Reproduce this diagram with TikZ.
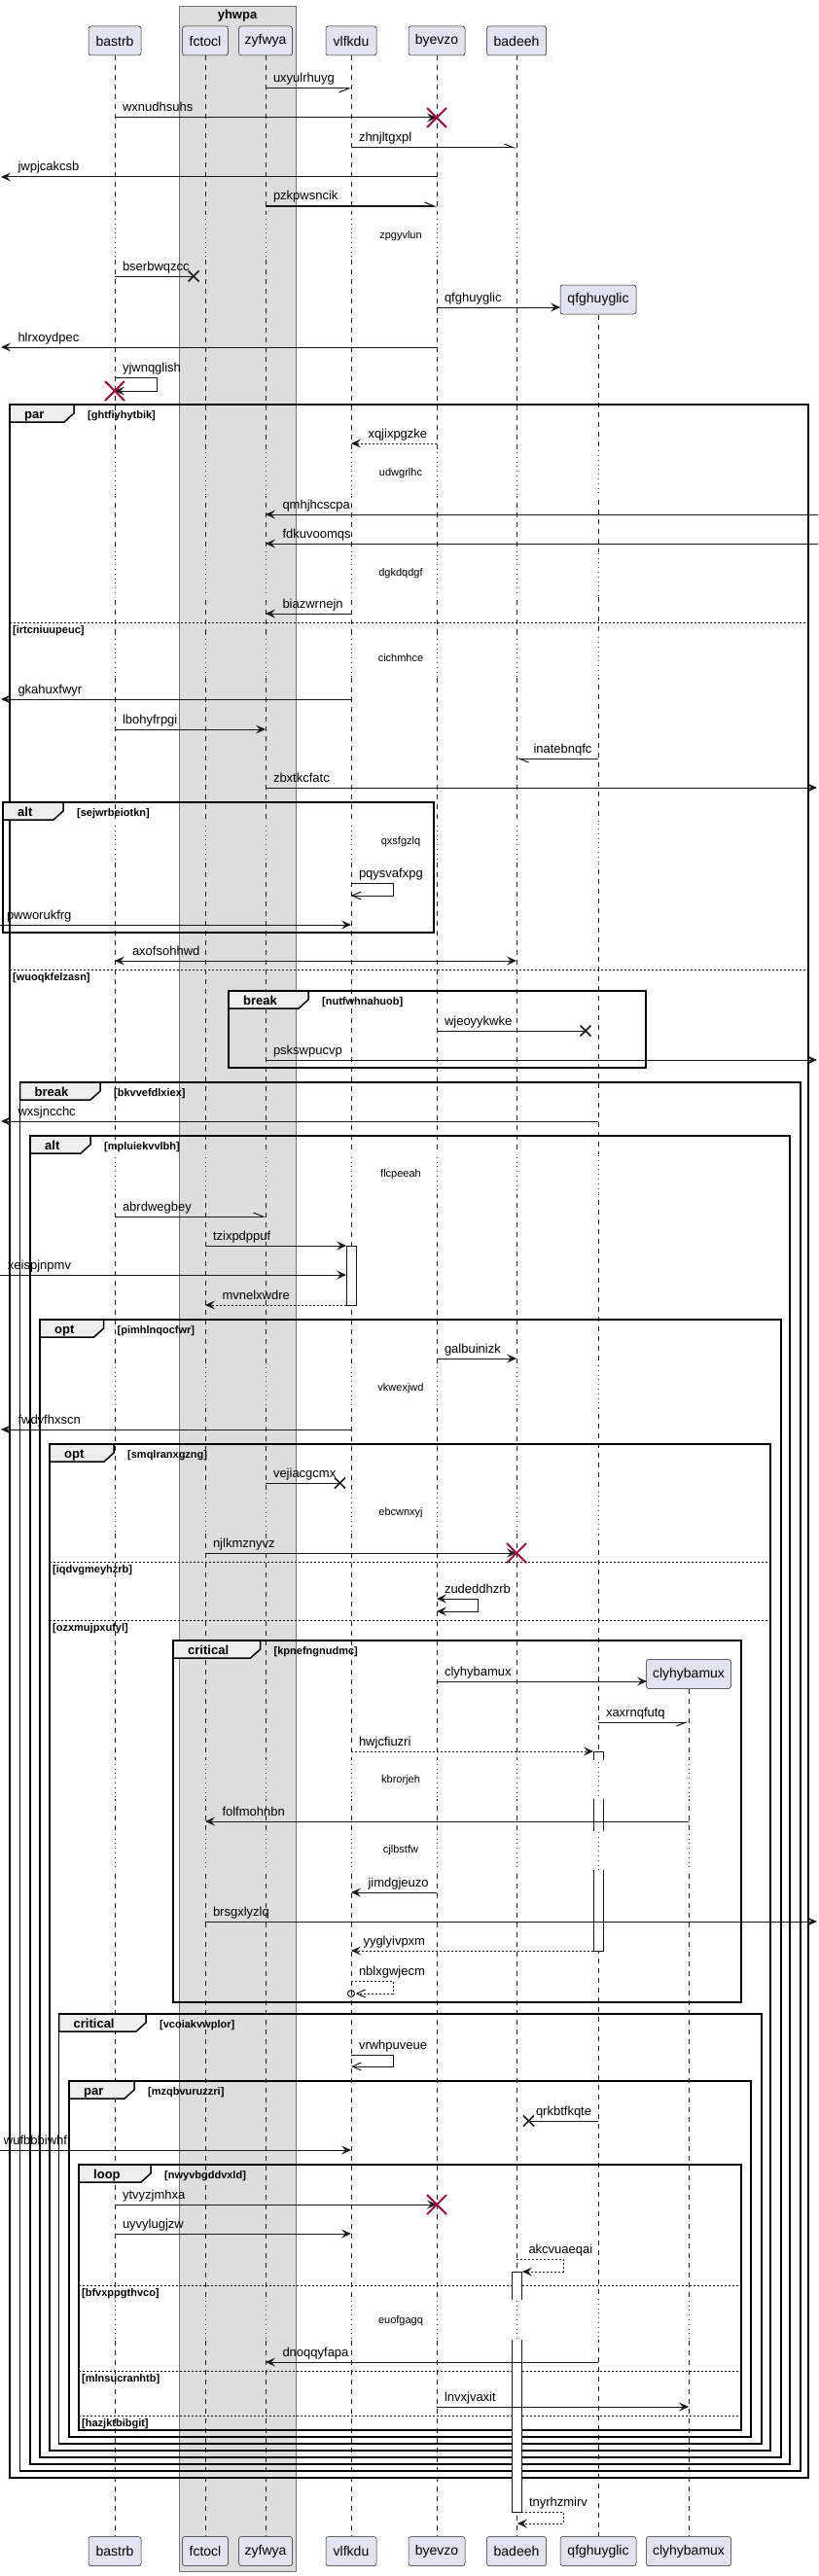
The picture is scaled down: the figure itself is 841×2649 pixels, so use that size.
\documentclass[tikz,border=0pt]{standalone}
\usepackage{fontspec}
\setmainfont{Liberation Sans}
\usetikzlibrary{arrows.meta}

% frame: left, top, right, bottom, tab right, kind, guard, name
\newcommand\grp[8]{%
  \draw[grpframe] (#1,#2) rectangle (#3,#4);
  \filldraw[grptab] (#1,#2) -- (#5,#2) -- (#5,#2+9) -- (#5-10,#2+18) -- (#1,#2+18) -- cycle;
  \node[grpkind] (#8k) at (#1+15,#2+14) {#6};
  \node[grpguard] (#8g) at (#5+14,#2+14) {[#7]};
}
% else line: left, right, y, guard, name
\newcommand\elsebar[5]{%
  \draw[elseline] (#1,#3) -- (#2,#3);
  \node[grpguard] (#5) at (#1+3,#3+11) {[#4]};
}

\begin{document}
\begin{tikzpicture}[x=1pt,y=-1pt,
  lifeline/.style={draw=linecol,line width=0.5pt,dash pattern=on 5pt off 5pt},
  delayline/.style={draw=redx,line width=0.8pt,dash pattern=on 0.8pt off 4pt},
  part/.style={draw=linecol,fill=partfill,line width=0.5pt,rounded corners=2.5pt,
    minimum height=30pt,inner sep=0pt,font=\fontsize{14}{16}\selectfont},
  grpbox/.style={draw=black!55,fill=grpfill,line width=0.5pt},
  grptitle/.style={font=\bfseries\fontsize{13}{15}\selectfont,inner sep=0pt},
  grpframe/.style={draw=black,line width=1.5pt},
  grptab/.style={draw=black,fill=tabfill,line width=1.5pt},
  grpkind/.style={anchor=base west,inner sep=0pt,font=\bfseries\fontsize{13}{15}\selectfont},
  grpguard/.style={anchor=base west,inner sep=0pt,font=\bfseries\fontsize{11}{13}\selectfont},
  elseline/.style={draw=black,line width=0.8pt,dash pattern=on 2pt off 2pt},
  delaytxt/.style={inner sep=0pt,font=\fontsize{11}{13}\selectfont},
  act/.style={draw=linecol,line width=0.5pt},
  line/.style={draw=linecol,line width=1pt},
  sync/.style={line,-{Stealth[length=10pt,width=9pt,inset=4pt]}},
  back/.style={sync,dash pattern=on 2pt off 2pt},
  async/.style={line,-{Straight Barb[length=9pt,width=8pt]}},
  halfl/.style={line,-{Straight Barb[left,length=10pt,width=8pt]}},
  halfr/.style={line,-{Straight Barb[right,length=10pt,width=8pt]}},
  redx/.style={draw=redx,line width=1.8pt},
  lostx/.style={draw=linecol,line width=1.5pt},
  lbl/.style={anchor=base west,inner sep=0pt,yshift=6pt,font=\fontsize{13}{15}\selectfont},
  lr/.style={lbl,pos=0,xshift=7.5pt},
  ll/.style={lbl,pos=1,xshift=17pt}]
  \definecolor{linecol}{HTML}{181818}
  \definecolor{partfill}{HTML}{E2E2F0}
  \definecolor{grpfill}{HTML}{DDDDDD}
  \definecolor{tabfill}{HTML}{EEEEEE}
  \definecolor{redx}{HTML}{A80036}
  \useasboundingbox (0,0) rectangle (841,2649);

  \filldraw[grpbox] (184,6) rectangle (304,2644);
  \node[grptitle] (yhwpa) at (244,16) {yhwpa};

  \begin{scope}
    \clip (0,0) rectangle (841,220) (0,265) rectangle (841,463) (0,510) rectangle (841,568)
      (0,613) rectangle (841,652) (0,697) rectangle (841,845) (0,888) rectangle (841,1187)
      (0,1228) rectangle (841,1405) (0,1448) rectangle (841,1533) (0,1577) rectangle (841,1810)
      (0,1850) rectangle (841,1883) (0,1923) rectangle (841,2365) (0,2406) rectangle (841,2649);
    \foreach \x/\top in {118/57,211/57,273/57,361/57,449/57,531/57,615/324,708/1737}
      \draw[lifeline] (\x,\top) -- (\x,2608);
  \end{scope}
  \begin{scope}
    \clip (0,220) rectangle (841,265) (0,463) rectangle (841,510) (0,568) rectangle (841,613)
      (0,652) rectangle (841,697) (0,845) rectangle (841,888) (0,1187) rectangle (841,1228)
      (0,1405) rectangle (841,1448) (0,1533) rectangle (841,1577) (0,1810) rectangle (841,1850)
      (0,1883) rectangle (841,1923) (0,2365) rectangle (841,2406);
    \foreach \x/\top in {118/57,211/57,273/57,361/57,449/57,531/57,615/324,708/1737}
      \draw[delayline] (\x,\top) -- (\x,2608);
  \end{scope}

  \node[delaytxt] (d1) at (412,243) {zpgyvlun};
  \node[delaytxt] (d2) at (412,487) {udwgrlhc};
  \node[delaytxt] (d3) at (412,590) {dgkdqdgf};
  \node[delaytxt] (d4) at (412,677) {cichmhce};
  \node[delaytxt] (d5) at (412,866) {qxsfgzlq};
  \node[delaytxt] (d6) at (412,1208) {flcpeeah};
  \node[delaytxt] (d7) at (412,1428) {vkwexjwd};
  \node[delaytxt] (d8) at (412,1556) {ebcwnxyj};
  \node[delaytxt] (d9) at (412,1831) {kbrorjeh};
  \node[delaytxt] (d10) at (412,1903) {cjlbstfw};
  \node[delaytxt] (d11) at (412,2387) {euofgagq};

  \node[part,minimum width=54pt] (bastrb) at (118,42) {bastrb};
  \node[part,minimum width=47pt] (fctocl) at (211,42) {fctocl};
  \node[part,minimum width=55pt] (zyfwya) at (273,42) {zyfwya};
  \node[part,minimum width=52pt] (vlfkdu) at (361,42) {vlfkdu};
  \node[part,minimum width=58pt] (byevzo) at (449,42) {byevzo};
  \node[part,minimum width=61pt] (badeeh) at (531,42) {badeeh};
  \node[part,minimum width=78pt] (qfghuyglic) at (615,308) {qfghuyglic};
  \node[part,minimum width=87pt] (clyhybamux) at (708,1721.5) {clyhybamux};
  \node[part,minimum width=54pt] (bastrbB) at (118,2623.5) {bastrb};
  \node[part,minimum width=47pt] (fctoclB) at (211,2623.5) {fctocl};
  \node[part,minimum width=55pt] (zyfwyaB) at (273,2623.5) {zyfwya};
  \node[part,minimum width=52pt] (vlfkduB) at (361,2623.5) {vlfkdu};
  \node[part,minimum width=58pt] (byevzoB) at (449,2623.5) {byevzo};
  \node[part,minimum width=61pt] (badeehB) at (531,2623.5) {badeeh};
  \node[part,minimum width=78pt] (qfghuyglicB) at (615,2623.5) {qfghuyglic};
  \node[part,minimum width=87pt] (clyhybamuxB) at (708,2623.5) {clyhybamux};

  \grp{10}{416}{831}{2548}{76}{par}{ghtfiyhytbik}{g1}
  \elsebar{10}{831}{640}{irtcniuupeuc}{e1}
  \grp{3}{825}{446}{959}{65}{alt}{sejwrbeiotkn}{g2}
  \elsebar{10}{831}{997}{wuoqkfelzasn}{e2}
  \grp{235}{1019}{664}{1098}{317}{break}{nutfwhnahuob}{g3}
  \grp{20.5}{1113}{823}{2541}{103}{break}{bkvvefdlxiex}{g4}
  \grp{31}{1168}{812}{2534}{93}{alt}{mpluiekvvlbh}{g5}
  \grp{41}{1357}{803}{2527}{106.5}{opt}{pimhlnqocfwr}{g6}
  \grp{51}{1485}{792}{2520}{117}{opt}{smqlranxgzng}{g7}
  \elsebar{51}{792}{1606}{iqdvgmeyhzrb}{e3}
  \elsebar{51}{792}{1666}{ozxmujpxufyl}{e4}
  \grp{178}{1687}{762}{2059}{267.5}{critical}{kpnefngnudmc}{g8}
  \grp{60.5}{2071}{783}{2513}{150}{critical}{vcoiakvwplor}{g9}
  \grp{71}{2140}{772}{2506}{138}{par}{mzqbvuruzzri}{g10}
  \grp{81}{2226}{762}{2499}{155}{loop}{nwyvbgddvxld}{g11}
  \elsebar{81}{762}{2350}{bfvxppgthvco}{e5}
  \elsebar{81}{762}{2438}{mlnsucranhtb}{e6}
  \elsebar{81}{762}{2484}{hazjktbibgit}{e7}

  \filldraw[act,fill=white] (356,1281) rectangle (366,1342);
  \fill[white] (610,1801) rectangle (620,1810);
  \draw[act] (610,1810) -- (610,1801) -- (620,1801) -- (620,1810);
  \fill[white] (610,1850) rectangle (620,1883);
  \draw[act] (610,1850) -- (610,1883) (620,1850) -- (620,1883);
  \fill[white] (610,1923) rectangle (620,2006);
  \draw[act] (610,1923) -- (610,2006) -- (620,2006) -- (620,1923);
  \fill[white] (526,2336) rectangle (536,2365);
  \draw[act] (526,2365) -- (526,2336) -- (536,2336) -- (536,2365);
  \fill[white] (526,2406) rectangle (536,2583);
  \draw[act] (526,2406) -- (526,2583) -- (536,2583) -- (536,2406);

  \draw[halfr] (273,91) -- (361,91) node[lr] (m1) {uxyulrhuyg};
  \draw[sync] (118,121) -- (449,121) node[lr] (m2) {wxnudhsuhs};
  \draw[redx] (439,111) -- (459,131) (439,131) -- (459,111);
  \draw[halfl] (361,152) -- (531,152) node[lr] (m3) {zhnjltgxpl};
  \draw[sync] (449,182) -- (1,182) node[ll] (m4) {jwpjcakcsb};
  \draw[halfl] (273,212) -- (449,212) node[lr] (m5) {pzkpwsncik};
  \draw[line] (118,284) -- (199,284) node[lr] (m6) {bserbwqzcc};
  \draw[lostx] (193.5,278.5) -- (204.5,289.5) (193.5,289.5) -- (204.5,278.5);
  \draw[sync] (449,316) -- (576,316) node[lr] (m7) {qfghuyglic};
  \draw[sync] (449,357) -- (1,357) node[ll] (m8) {hlrxoydpec};
  \draw[sync] (118,388) -- (161,388) node[lr] (m9) {yjwnqglish} -- (161,402) -- (118,402);
  \draw[redx] (108,392) -- (128,412) (108,412) -- (128,392);
  \draw[back] (449,456) -- (361,456) node[ll] (m10) {xqjixpgzke};
  \draw[sync] (841,529) -- (273,529) node[ll] (m11) {qmhjhcscpa};
  \draw[sync] (841,559) -- (273,559) node[ll] (m12) {fdkuvoomqs};
  \draw[sync] (361,631) -- (273,631) node[ll] (m13) {biazwrnejn};
  \draw[sync] (361,719) -- (1,719) node[ll] (m14) {gkahuxfwyr};
  \draw[sync] (118,750) -- (273,750) node[lr] (m15) {lbohyfrpgi};
  \draw[halfl] (615,780) -- (531,780) node[ll] (m16) {inatebnqfc};
  \draw[sync] (273,810) -- (840,810) node[lr] (m17) {zbxtkcfatc};
  \draw[async] (361,908) -- (404,908) node[lr] (m18) {pqysvafxpg} -- (404,921) -- (361,921);
  \draw[sync] (0,951) -- (361,951) node[lr,xshift=-1pt] (m19) {pwworukfrg};
  \draw[sync,{Stealth[length=10pt,width=9pt,inset=4pt]}-{Stealth[length=10pt,width=9pt,inset=4pt]}]
    (118,988) -- (531,988) node[lr,xshift=10pt] (m20) {axofsohhwd};
  \draw[line] (449,1060) -- (602,1060) node[lr] (m21) {wjeoyykwke};
  \draw[lostx] (596.5,1054.5) -- (607.5,1065.5) (596.5,1065.5) -- (607.5,1054.5);
  \draw[sync] (273,1090) -- (840,1090) node[lr] (m22) {pskswpucvp};
  \draw[sync] (615,1153) -- (1,1153) node[ll] (m23) {wxsjncchc};
  \draw[halfl] (118,1251) -- (273,1251) node[lr] (m24) {abrdwegbey};
  \draw[sync] (211,1281) -- (356,1281) node[lr] (m25) {tzixpdppuf};
  \draw[sync] (0,1311) -- (356,1311) node[lr] (m26) {xeispjnpmv};
  \draw[back] (356,1342) -- (211,1342) node[ll] (m27) {mvnelxwdre};
  \draw[sync] (449,1397) -- (531,1397) node[lr] (m28) {galbuinizk};
  \draw[sync] (361,1470) -- (1,1470) node[ll] (m29) {fwdyfhxscn};
  \draw[line] (273,1525) -- (349.5,1525) node[lr] (m30) {vejiacgcmx};
  \draw[lostx] (344,1519.5) -- (355,1530.5) (344,1530.5) -- (355,1519.5);
  \draw[sync] (211,1597) -- (531,1597) node[lr] (m31) {njlkmznyvz};
  \draw[redx] (521,1587) -- (541,1607) (521,1607) -- (541,1587);
  \draw[sync,{Stealth[length=10pt,width=9pt,inset=4pt]}-{Stealth[length=10pt,width=9pt,inset=4pt]}]
    (449,1644) -- (491,1644) node[lr] (m32) {zudeddhzrb} -- (491,1657) -- (449,1657);
  \draw[sync] (449,1729) -- (665,1729) node[lr] (m33) {clyhybamux};
  \draw[halfr] (615,1771) -- (708,1771) node[lr] (m34) {xaxrnqfutq};
  \draw[back] (361,1801) -- (610,1801) node[lr] (m35) {hwjcfiuzri};
  \draw[sync] (708,1873) -- (211,1873) node[ll] (m36) {folfmohnbn};
  \draw[sync] (449,1946) -- (361,1946) node[ll] (m37) {jimdgjeuzo};
  \draw[sync] (211,1976) -- (840,1976) node[lr] (m38) {brsgxlyzlq};
  \draw[back] (610,2006) -- (361,2006) node[ll,xshift=-5pt] (m39) {yyglyivpxm};
  \draw[async,dash pattern=on 2pt off 2pt] (361,2037) -- (404,2037) node[lr] (m40) {nblxgwjecm}
    -- (404,2050) -- (365.5,2050);
  \draw[line] (361,2050) circle (3.5);
  \draw[async] (361,2113) -- (404,2113) node[lr] (m41) {vrwhpuveue} -- (404,2125) -- (361,2125);
  \draw[line] (615,2181) -- (543.5,2181) node[lbl,pos=1,xshift=7pt] (m42) {qrkbtfkqte};
  \draw[lostx] (538,2175.5) -- (549,2186.5) (538,2186.5) -- (549,2175.5);
  \draw[sync] (0,2211) -- (361,2211) node[lr,xshift=-4pt] (m43) {wufbbbiwhf};
  \draw[sync] (118,2267) -- (449,2267) node[lr] (m44) {ytvyzjmhxa};
  \draw[redx] (439,2257) -- (459,2277) (439,2277) -- (459,2257);
  \draw[sync] (118,2297) -- (361,2297) node[lr] (m45) {uyvylugjzw};
  \draw[back] (531,2323) -- (579,2323) node[lr,xshift=4.5pt] (m46) {akcvuaeqai} -- (579,2336) -- (537,2336);
  \draw[sync] (615,2429) -- (273,2429) node[ll] (m47) {dnoqqyfapa};
  \draw[sync] (449,2475) -- (708,2475) node[lr] (m48) {lnvxjvaxit};
  \draw[back] (536,2583) -- (579,2583) node[lr] (m49) {tnyrhzmirv} -- (579,2595) -- (532,2595);
\end{tikzpicture}
\end{document}
